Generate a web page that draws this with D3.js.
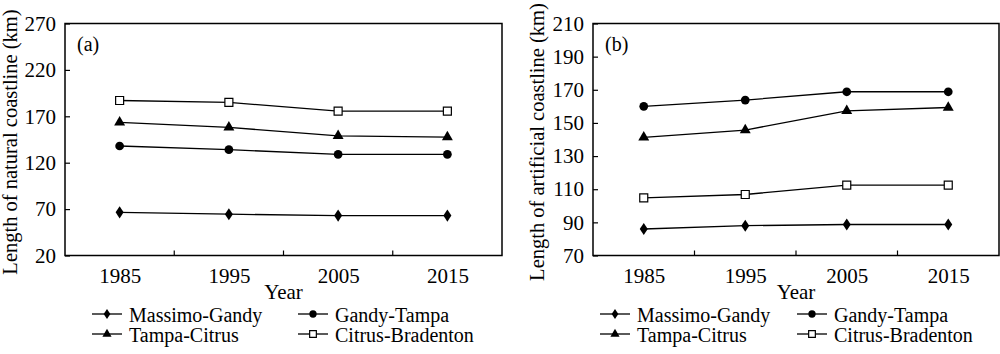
<!DOCTYPE html>
<html>
<head>
<meta charset="utf-8">
<script src="https://cdn.jsdelivr.net/npm/d3@7"></script>
<style>
  body { margin: 0; background: #fff; }
  svg { display: block; font-family: "Liberation Serif", "Times New Roman", serif; }
</style>
</head>
<body>
<div id="chart"></div>
<script>
// Data
var years = [1985, 1995, 2005, 2015];
var seriesNames = ["Massimo-Gandy", "Gandy-Tampa", "Tampa-Citrus", "Citrus-Bradenton"];
var markerTypes = ["diamond", "circle", "triangle", "square"];

// (a) natural coastline, km
var naturalMassimoGandy = [66.5, 64.5, 63, 63];
var naturalGandyTampa = [138, 134, 129, 129];
var naturalTampaCitrus = [163.5, 158, 149, 147.5];
var naturalCitrusBradenton = [187, 185, 175.5, 175.5];

// (b) artificial coastline, km
var artificialMassimoGandy = [86, 88, 88.7, 88.7];
var artificialGandyTampa = [160, 163.8, 168.8, 168.8];
var artificialTampaCitrus = [141.3, 145.7, 157.3, 159.3];
var artificialCitrusBradenton = [104.8, 106.8, 112.5, 112.5];

var naturalTicks = [20, 70, 120, 170, 220, 270];
var artificialTicks = [70, 90, 110, 130, 150, 170, 190, 210];

var svg = d3.select("#chart").append("svg")
    .attr("width", 1000)
    .attr("height", 354);

function symbolFor(type) {
    if (type == "diamond") return d3.symbolDiamond;
    if (type == "circle") return d3.symbolCircle;
    if (type == "triangle") return d3.symbolTriangle;
    return d3.symbolSquare;
}

function drawMarker(g, type, x, y, scale) {
    var sizes = { diamond: 42, circle: 60, triangle: 52, square: 64 };
    var m = g.append("path")
        .attr("d", d3.symbol().type(symbolFor(type)).size(sizes[type] * scale)())
        .attr("transform", `translate(${x},${y})` + (type == "diamond" ? " scale(1.15,1)" : ""))
        .attr("stroke", "#000");
    if (type == "square") m.attr("fill", "#fff").attr("stroke-width", 1.2);
    else m.attr("fill", "#000").attr("stroke-width", 0);
}

function panel(opts) {
    var g = svg.append("g");
    var x = d3.scaleLinear().domain([1980, 2020]).range([opts.left, opts.right]);
    var y = d3.scaleLinear().domain(opts.domain).range([opts.bottom, opts.top]);

    // frame
    g.append("rect")
        .attr("x", opts.left).attr("y", opts.top)
        .attr("width", opts.right - opts.left).attr("height", opts.bottom - opts.top)
        .attr("fill", "none").attr("stroke", "#000").attr("stroke-width", 1.5);

    // y axis, ticks inside
    var yAxis = g.append("g")
        .attr("transform", `translate(${opts.left},0)`)
        .call(d3.axisLeft(y).tickValues(opts.ticks).tickSize(-5).tickPadding(9).tickFormat(d3.format("d")));
    yAxis.select(".domain").remove();
    yAxis.selectAll("text").style("font-size", "21px").attr("fill", "#000").attr("font-family", "Liberation Serif");
    yAxis.selectAll("line").attr("stroke", "#000").attr("stroke-width", 1.2);

    // x axis: labels at years, ticks between them pointing up
    var xAxis = g.append("g")
        .attr("transform", `translate(0,${opts.bottom})`)
        .call(d3.axisBottom(x).tickValues(years).tickSize(0).tickPadding(13).tickFormat(d3.format("d")));
    xAxis.select(".domain").remove();
    xAxis.selectAll("text").style("font-size", "21px").attr("fill", "#000").attr("font-family", "Liberation Serif");
    g.selectAll(".midtick")
        .data([1990, 2000, 2010])
        .enter().append("line")
        .attr("x1", d => x(d)).attr("x2", d => x(d))
        .attr("y1", opts.bottom).attr("y2", opts.bottom - 5)
        .attr("stroke", "#000").attr("stroke-width", 1.2);

    // titles
    g.append("text")
        .attr("x", (opts.left + opts.right) / 2)
        .attr("y", opts.bottom + 43)
        .attr("text-anchor", "middle")
        .style("font-size", "21px")
        .text("Year");
    g.append("text")
        .attr("transform", `translate(${opts.titleX},142) rotate(-90)`)
        .attr("text-anchor", "middle")
        .style("font-size", "20.5px")
        .text(opts.yTitle);
    g.append("text")
        .attr("x", opts.left + 12)
        .attr("y", opts.top + 27)
        .style("font-size", "20px")
        .text(opts.label);

    // series
    var line = d3.line().x((d, i) => x(years[i])).y(d => y(d));
    opts.series.forEach(function (vals, si) {
        g.append("path")
            .datum(vals)
            .attr("d", line)
            .attr("fill", "none")
            .attr("stroke", "#000")
            .attr("stroke-width", 1.3);
    });
    opts.series.forEach(function (vals, si) {
        vals.forEach(function (v, i) {
            drawMarker(g, markerTypes[si], x(years[i]), y(v), 1);
        });
    });

    // legend, two rows by two columns
    seriesNames.forEach(function (name, si) {
        var col = si % 2, row = Math.floor(si / 2);
        var lx = opts.legendX[col], ly = opts.legendY + row * 20;
        g.append("line")
            .attr("x1", lx).attr("x2", lx + 30)
            .attr("y1", ly).attr("y2", ly)
            .attr("stroke", "#000").attr("stroke-width", 1.3);
        drawMarker(g, markerTypes[si], lx + 15, ly, 0.7);
        g.append("text")
            .attr("x", lx + 37)
            .attr("y", ly + 8)
            .style("font-size", "20px")
            .text(name);
    });
}

panel({
    left: 65, right: 502, top: 23.5, bottom: 255.5,
    domain: [20, 270], ticks: naturalTicks,
    series: [naturalMassimoGandy, naturalGandyTampa, naturalTampaCitrus, naturalCitrusBradenton],
    yTitle: "Length of natural coastline (km)", titleX: 17, label: "(a)",
    legendX: [92, 298], legendY: 314
});

panel({
    left: 593, right: 999, top: 23.5, bottom: 255.5,
    domain: [70, 210], ticks: artificialTicks,
    series: [artificialMassimoGandy, artificialGandyTampa, artificialTampaCitrus, artificialCitrusBradenton],
    yTitle: "Length of artificial coastline (km)", titleX: 544, label: "(b)",
    legendX: [600, 797], legendY: 314
});
</script>
</body>
</html>
